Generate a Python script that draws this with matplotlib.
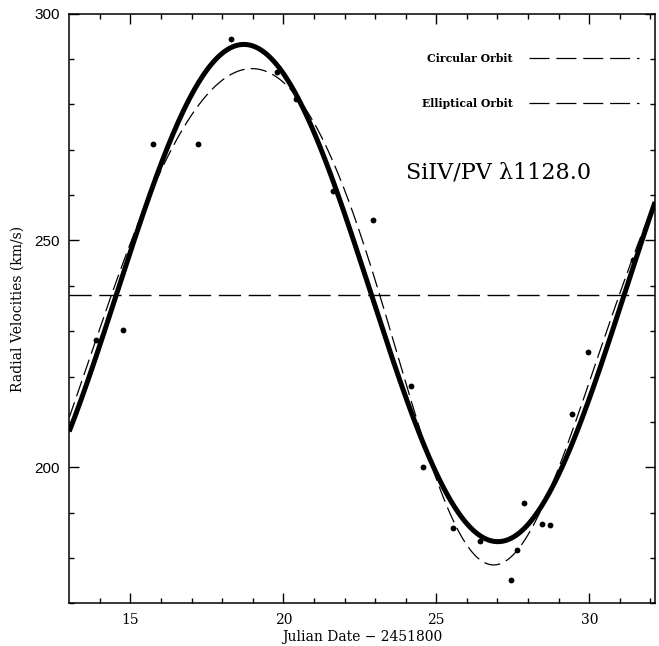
"""Radial velocity curve, SiIV/PV 1128.0"""

import numpy as np
import matplotlib.pyplot as plt

jd = [13.87, 14.75, 15.75, 17.20, 18.28, 19.78, 20.40, 21.61, 22.93,
      24.16, 24.55, 25.53, 26.42, 27.43, 27.64, 27.88, 28.47, 28.73,
      29.44, 29.95, 31.43]
rv = [228.0, 230.3, 271.2, 271.2, 294.4, 287.1, 281.1, 261.0, 254.4,
      217.8, 200.0, 186.6, 183.8, 175.2, 181.8, 192.1, 187.4, 187.2,
      211.8, 225.4, 245.7]

# Orbit fits: period, periastron time, e, omega, K, gamma
circ = dict(P=16.6, Tp=18.71, e=0.0, w=0.0, K=54.8, g=238.4)
ellip = dict(P=16.6, Tp=26.0, e=0.096, w=2.74, K=54.7, g=238.0)
gamma_line = 238.0


def kepler_rv(t, P, Tp, e, w, K, g):
    M = 2 * np.pi * (t - Tp) / P
    E = M.copy()
    for _ in range(30):
        E = E - (E - e * np.sin(E) - M) / (1 - e * np.cos(E))
    nu = 2 * np.arctan2(np.sqrt(1 + e) * np.sin(E / 2),
                        np.sqrt(1 - e) * np.cos(E / 2))
    return g + K * (np.cos(nu + w) + e * np.cos(w))


xmin, xmax = 13.0, 32.15
t = np.linspace(xmin, xmax, 600)

fig = plt.figure(figsize=(6.59, 6.46), dpi=100)
ax = fig.add_axes([0.105, 0.066, 0.889, 0.913])

ax.plot(t, kepler_rv(t, **circ), color="black", lw=3.6, solid_capstyle="butt")
ax.plot(t, kepler_rv(t, **ellip), color="black", lw=0.9,
        linestyle=(0, (13, 5)))
ax.axhline(gamma_line, color="black", lw=1.0, linestyle=(0, (16, 5.5)))
ax.plot(jd, rv, "o", color="black", markersize=4.2, markeredgewidth=0)

ax.set_xlim(xmin, xmax)
ax.set_ylim(170, 300)
ax.set_xticks([15, 20, 25, 30])
ax.set_xticks(np.arange(14, 33), minor=True)
ax.set_yticks([200, 250, 300])
ax.set_yticks(np.arange(170, 301, 10), minor=True)
ax.tick_params(which="both", direction="in", top=True, right=True, width=1.0)
ax.tick_params(which="major", length=7)
ax.tick_params(which="minor", length=3.8)
ax.tick_params(axis="y", pad=6.5)
ax.tick_params(axis="x", pad=7)
for lab in ax.get_yticklabels():
    lab.set_fontfamily("Liberation Sans")
    lab.set_fontsize(11)
for lab in ax.get_xticklabels():
    lab.set_fontfamily("DejaVu Serif")
    lab.set_fontsize(10)
for s in ax.spines.values():
    s.set_linewidth(1.1)

ax.set_xlabel("Julian Date \u2212 2451800", fontfamily="DejaVu Serif",
              fontsize=10, labelpad=2)
ax.set_ylabel("Radial Velocities (km/s)", fontfamily="DejaVu Serif",
              fontsize=10, labelpad=7)

# Legend drawn by hand, as in the original
ax.text(0.757, 0.924, "Circular Orbit", transform=ax.transAxes,
        ha="right", va="center", fontfamily="DejaVu Serif",
        fontweight="bold", fontsize=7.8)
ax.text(0.757, 0.848, "Elliptical Orbit", transform=ax.transAxes,
        ha="right", va="center", fontfamily="DejaVu Serif",
        fontweight="bold", fontsize=7.8)
for yy in (0.924, 0.848):
    ax.plot([0.784, 0.972], [yy, yy], transform=ax.transAxes, color="black",
            lw=0.9, linestyle=(0, (16, 5.5)))

ax.text(0.575, 0.731, "SiIV/PV \u03bb1128.0", transform=ax.transAxes,
        ha="left", va="center", fontfamily="DejaVu Serif", fontsize=16)

plt.savefig("out.png", dpi=100)
